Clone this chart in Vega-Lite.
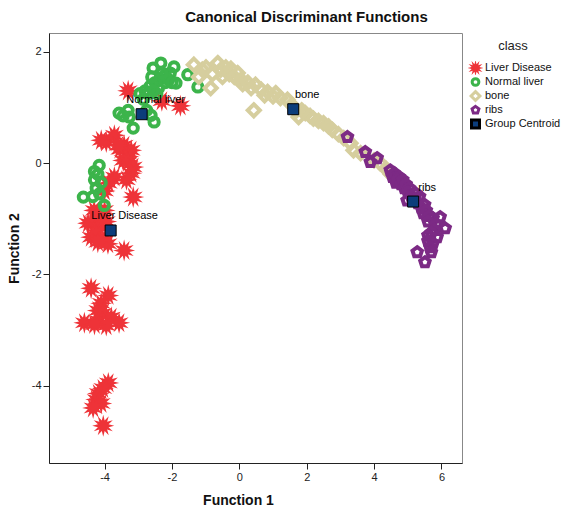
{
  "$schema": "https://vega.github.io/schema/vega-lite/v6.json",
  "width": 413,
  "height": 430,
  "autosize": {"type": "none"},
  "padding": {"left": 49, "top": 33, "right": 100, "bottom": 50},
  "background": "white",
  "title": {"text": "Canonical Discriminant Functions", "font": "Liberation Sans", "fontSize": 15, "fontWeight": "bold", "color": "#111111", "anchor": "middle", "dx": 51, "offset": 8},
  "config": {"view": {"stroke": "#888888", "strokeWidth": 1}, "font": "Liberation Sans"},
  "datasets": {
    "cases": [
      {"f1": -2.3, "f2": 1.12, "class": "Liver Disease"},
      {"f1": -1.75, "f2": 1.03, "class": "Liver Disease"},
      {"f1": -3.3, "f2": 1.3, "class": "Liver Disease"},
      {"f1": -4.1, "f2": 0.41, "class": "Liver Disease"},
      {"f1": -3.95, "f2": 0.38, "class": "Liver Disease"},
      {"f1": -3.71, "f2": 0.5, "class": "Liver Disease"},
      {"f1": -3.42, "f2": 0.32, "class": "Liver Disease"},
      {"f1": -3.55, "f2": 0.25, "class": "Liver Disease"},
      {"f1": -3.21, "f2": 0.23, "class": "Liver Disease"},
      {"f1": -3.3, "f2": 0.12, "class": "Liver Disease"},
      {"f1": -3.45, "f2": 0.05, "class": "Liver Disease"},
      {"f1": -3.3, "f2": 0.02, "class": "Liver Disease"},
      {"f1": -3.15, "f2": -0.07, "class": "Liver Disease"},
      {"f1": -3.21, "f2": -0.18, "class": "Liver Disease"},
      {"f1": -3.35, "f2": -0.3, "class": "Liver Disease"},
      {"f1": -3.15, "f2": -0.61, "class": "Liver Disease"},
      {"f1": -3.71, "f2": -0.25, "class": "Liver Disease"},
      {"f1": -3.89, "f2": -0.36, "class": "Liver Disease"},
      {"f1": -4.0, "f2": -0.5, "class": "Liver Disease"},
      {"f1": -3.6, "f2": 0.32, "class": "Liver Disease"},
      {"f1": -4.31, "f2": -0.85, "class": "Liver Disease"},
      {"f1": -4.2, "f2": -0.95, "class": "Liver Disease"},
      {"f1": -4.0, "f2": -0.85, "class": "Liver Disease"},
      {"f1": -4.3, "f2": -1.05, "class": "Liver Disease"},
      {"f1": -4.49, "f2": -1.08, "class": "Liver Disease"},
      {"f1": -4.15, "f2": -1.15, "class": "Liver Disease"},
      {"f1": -3.95, "f2": -1.05, "class": "Liver Disease"},
      {"f1": -4.4, "f2": -1.33, "class": "Liver Disease"},
      {"f1": -4.25, "f2": -1.28, "class": "Liver Disease"},
      {"f1": -4.01, "f2": -1.39, "class": "Liver Disease"},
      {"f1": -3.9, "f2": -1.45, "class": "Liver Disease"},
      {"f1": -4.2, "f2": -1.42, "class": "Liver Disease"},
      {"f1": -3.42, "f2": -1.57, "class": "Liver Disease"},
      {"f1": -4.4, "f2": -2.25, "class": "Liver Disease"},
      {"f1": -3.89, "f2": -2.38, "class": "Liver Disease"},
      {"f1": -4.1, "f2": -2.52, "class": "Liver Disease"},
      {"f1": -4.2, "f2": -2.65, "class": "Liver Disease"},
      {"f1": -4.05, "f2": -2.7, "class": "Liver Disease"},
      {"f1": -3.8, "f2": -2.77, "class": "Liver Disease"},
      {"f1": -4.6, "f2": -2.87, "class": "Liver Disease"},
      {"f1": -4.19, "f2": -2.83, "class": "Liver Disease"},
      {"f1": -3.57, "f2": -2.87, "class": "Liver Disease"},
      {"f1": -3.95, "f2": -2.92, "class": "Liver Disease"},
      {"f1": -4.3, "f2": -2.9, "class": "Liver Disease"},
      {"f1": -3.89, "f2": -3.95, "class": "Liver Disease"},
      {"f1": -4.05, "f2": -4.05, "class": "Liver Disease"},
      {"f1": -4.19, "f2": -4.14, "class": "Liver Disease"},
      {"f1": -4.25, "f2": -4.25, "class": "Liver Disease"},
      {"f1": -4.1, "f2": -4.32, "class": "Liver Disease"},
      {"f1": -4.34, "f2": -4.4, "class": "Liver Disease"},
      {"f1": -4.04, "f2": -4.72, "class": "Liver Disease"},
      {"f1": -2.95, "f2": 1.25, "class": "Normal liver"},
      {"f1": -2.8, "f2": 1.3, "class": "Normal liver"},
      {"f1": -2.65, "f2": 1.38, "class": "Normal liver"},
      {"f1": -2.5, "f2": 1.45, "class": "Normal liver"},
      {"f1": -2.35, "f2": 1.52, "class": "Normal liver"},
      {"f1": -2.2, "f2": 1.58, "class": "Normal liver"},
      {"f1": -2.05, "f2": 1.62, "class": "Normal liver"},
      {"f1": -2.7, "f2": 1.25, "class": "Normal liver"},
      {"f1": -2.4, "f2": 1.35, "class": "Normal liver"},
      {"f1": -2.2, "f2": 1.45, "class": "Normal liver"},
      {"f1": -2.1, "f2": 1.5, "class": "Normal liver"},
      {"f1": -2.45, "f2": 1.25, "class": "Normal liver"},
      {"f1": -2.85, "f2": 1.15, "class": "Normal liver"},
      {"f1": -2.6, "f2": 1.55, "class": "Normal liver"},
      {"f1": -2.3, "f2": 1.62, "class": "Normal liver"},
      {"f1": -2.0, "f2": 1.45, "class": "Normal liver"},
      {"f1": -2.55, "f2": 1.3, "class": "Normal liver"},
      {"f1": -2.33, "f2": 1.8, "class": "Normal liver"},
      {"f1": -1.94, "f2": 1.73, "class": "Normal liver"},
      {"f1": -2.56, "f2": 1.71, "class": "Normal liver"},
      {"f1": -1.88, "f2": 1.44, "class": "Normal liver"},
      {"f1": -1.53, "f2": 1.59, "class": "Normal liver"},
      {"f1": -1.23, "f2": 1.37, "class": "Normal liver"},
      {"f1": -3.57, "f2": 0.9, "class": "Normal liver"},
      {"f1": -3.27, "f2": 0.83, "class": "Normal liver"},
      {"f1": -2.62, "f2": 0.86, "class": "Normal liver"},
      {"f1": -2.53, "f2": 0.74, "class": "Normal liver"},
      {"f1": -3.15, "f2": 0.63, "class": "Normal liver"},
      {"f1": -3.3, "f2": 0.95, "class": "Normal liver"},
      {"f1": -2.75, "f2": 0.95, "class": "Normal liver"},
      {"f1": -3.45, "f2": 0.85, "class": "Normal liver"},
      {"f1": -4.16, "f2": -0.04, "class": "Normal liver"},
      {"f1": -4.63, "f2": -0.61, "class": "Normal liver"},
      {"f1": -4.01, "f2": -0.76, "class": "Normal liver"},
      {"f1": -4.3, "f2": -0.3, "class": "Normal liver"},
      {"f1": -4.25, "f2": -0.45, "class": "Normal liver"},
      {"f1": -4.15, "f2": -0.55, "class": "Normal liver"},
      {"f1": -4.35, "f2": -0.6, "class": "Normal liver"},
      {"f1": -4.2, "f2": -0.2, "class": "Normal liver"},
      {"f1": -4.1, "f2": -0.35, "class": "Normal liver"},
      {"f1": -4.3, "f2": -0.15, "class": "Normal liver"},
      {"f1": -1.35, "f2": 1.77, "class": "bone"},
      {"f1": -1.2, "f2": 1.55, "class": "bone"},
      {"f1": -1.1, "f2": 1.68, "class": "bone"},
      {"f1": -0.99, "f2": 1.72, "class": "bone"},
      {"f1": -0.85, "f2": 1.35, "class": "bone"},
      {"f1": -0.8, "f2": 1.6, "class": "bone"},
      {"f1": -0.64, "f2": 1.8, "class": "bone"},
      {"f1": -0.55, "f2": 1.68, "class": "bone"},
      {"f1": -0.5, "f2": 1.55, "class": "bone"},
      {"f1": -0.4, "f2": 1.72, "class": "bone"},
      {"f1": -0.3, "f2": 1.6, "class": "bone"},
      {"f1": -0.25, "f2": 1.7, "class": "bone"},
      {"f1": -0.15, "f2": 1.55, "class": "bone"},
      {"f1": -0.05, "f2": 1.62, "class": "bone"},
      {"f1": 0.05, "f2": 1.5, "class": "bone"},
      {"f1": 0.1, "f2": 1.42, "class": "bone"},
      {"f1": 0.25, "f2": 1.45, "class": "bone"},
      {"f1": 0.35, "f2": 1.35, "class": "bone"},
      {"f1": 0.43, "f2": 0.95, "class": "bone"},
      {"f1": 0.48, "f2": 1.41, "class": "bone"},
      {"f1": 0.65, "f2": 1.32, "class": "bone"},
      {"f1": 0.75, "f2": 1.22, "class": "bone"},
      {"f1": 0.84, "f2": 1.28, "class": "bone"},
      {"f1": 1.0, "f2": 1.2, "class": "bone"},
      {"f1": 1.08, "f2": 1.26, "class": "bone"},
      {"f1": 1.22, "f2": 1.17, "class": "bone"},
      {"f1": 1.43, "f2": 1.14, "class": "bone"},
      {"f1": 1.55, "f2": 1.05, "class": "bone"},
      {"f1": 1.7, "f2": 0.95, "class": "bone"},
      {"f1": 1.76, "f2": 0.83, "class": "bone"},
      {"f1": 1.85, "f2": 0.95, "class": "bone"},
      {"f1": 1.96, "f2": 0.9, "class": "bone"},
      {"f1": 2.1, "f2": 0.85, "class": "bone"},
      {"f1": 2.2, "f2": 0.8, "class": "bone"},
      {"f1": 2.35, "f2": 0.76, "class": "bone"},
      {"f1": 2.5, "f2": 0.72, "class": "bone"},
      {"f1": 2.65, "f2": 0.66, "class": "bone"},
      {"f1": 2.76, "f2": 0.6, "class": "bone"},
      {"f1": 2.94, "f2": 0.52, "class": "bone"},
      {"f1": 3.1, "f2": 0.45, "class": "bone"},
      {"f1": 3.3, "f2": 0.36, "class": "bone"},
      {"f1": 3.39, "f2": 0.23, "class": "bone"},
      {"f1": 3.6, "f2": 0.18, "class": "bone"},
      {"f1": 4.0, "f2": 0.05, "class": "bone"},
      {"f1": 4.18, "f2": 0.0, "class": "bone"},
      {"f1": 4.35, "f2": -0.1, "class": "bone"},
      {"f1": 4.5, "f2": -0.2, "class": "bone"},
      {"f1": 4.7, "f2": -0.3, "class": "bone"},
      {"f1": 3.21, "f2": 0.47, "class": "ribs"},
      {"f1": 3.74, "f2": 0.2, "class": "ribs"},
      {"f1": 3.89, "f2": 0.02, "class": "ribs"},
      {"f1": 4.09, "f2": 0.09, "class": "ribs"},
      {"f1": 4.48, "f2": -0.13, "class": "ribs"},
      {"f1": 4.55, "f2": -0.25, "class": "ribs"},
      {"f1": 4.6, "f2": -0.18, "class": "ribs"},
      {"f1": 4.75, "f2": -0.25, "class": "ribs"},
      {"f1": 4.65, "f2": -0.35, "class": "ribs"},
      {"f1": 4.7, "f2": -0.3, "class": "ribs"},
      {"f1": 4.8, "f2": -0.38, "class": "ribs"},
      {"f1": 4.85, "f2": -0.3, "class": "ribs"},
      {"f1": 4.9, "f2": -0.45, "class": "ribs"},
      {"f1": 4.95, "f2": -0.38, "class": "ribs"},
      {"f1": 5.05, "f2": -0.45, "class": "ribs"},
      {"f1": 5.0, "f2": -0.52, "class": "ribs"},
      {"f1": 5.1, "f2": -0.6, "class": "ribs"},
      {"f1": 5.25, "f2": -0.55, "class": "ribs"},
      {"f1": 5.2, "f2": -0.65, "class": "ribs"},
      {"f1": 5.35, "f2": -0.6, "class": "ribs"},
      {"f1": 5.3, "f2": -0.72, "class": "ribs"},
      {"f1": 5.4, "f2": -0.8, "class": "ribs"},
      {"f1": 5.5, "f2": -0.75, "class": "ribs"},
      {"f1": 4.98, "f2": -0.67, "class": "ribs"},
      {"f1": 5.46, "f2": -0.9, "class": "ribs"},
      {"f1": 5.55, "f2": -0.85, "class": "ribs"},
      {"f1": 5.65, "f2": -0.95, "class": "ribs"},
      {"f1": 5.75, "f2": -0.99, "class": "ribs"},
      {"f1": 5.96, "f2": -0.97, "class": "ribs"},
      {"f1": 5.6, "f2": -1.05, "class": "ribs"},
      {"f1": 5.85, "f2": -1.1, "class": "ribs"},
      {"f1": 6.11, "f2": -1.17, "class": "ribs"},
      {"f1": 5.8, "f2": -1.2, "class": "ribs"},
      {"f1": 5.7, "f2": -1.25, "class": "ribs"},
      {"f1": 5.6, "f2": -1.3, "class": "ribs"},
      {"f1": 5.87, "f2": -1.33, "class": "ribs"},
      {"f1": 5.6, "f2": -1.4, "class": "ribs"},
      {"f1": 5.75, "f2": -1.44, "class": "ribs"},
      {"f1": 5.66, "f2": -1.51, "class": "ribs"},
      {"f1": 5.7, "f2": -1.6, "class": "ribs"},
      {"f1": 5.28, "f2": -1.6, "class": "ribs"},
      {"f1": 5.51, "f2": -1.78, "class": "ribs"}
    ],
    "centroids": [
      {"f1": -3.82, "f2": -1.21, "class": "Group Centroid", "label": "Liver Disease"},
      {"f1": -2.9, "f2": 0.88, "class": "Group Centroid", "label": "Normal liver"},
      {"f1": 1.6, "f2": 0.97, "class": "Group Centroid", "label": "bone"},
      {"f1": 5.16, "f2": -0.69, "class": "Group Centroid", "label": "ribs"}
    ]
  },
  "layer": [
    {
      "data": {"name": "cases"},
      "mark": {"type": "point", "opacity": 1, "size": 484, "strokeWidth": 4, "strokeJoin": "miter"},
      "encoding": {
        "x": {"field": "f1", "type": "quantitative", "scale": {"domain": [-5.65, 6.61], "nice": false, "zero": false},
          "axis": {"values": [-4, -2, 0, 2, 4, 6], "labelExpr": "'' + datum.value", "title": "Function 1", "titleFont": "Liberation Sans", "titleFontSize": 14, "titleFontWeight": "bold", "titleColor": "#111111", "titleX": 189, "titleY": 37, "titleBaseline": "middle", "labelFont": "Liberation Sans", "labelFontSize": 11, "labelColor": "#222222", "tickSize": 6, "tickColor": "#222222", "labelPadding": 2, "domainColor": "#222222", "grid": false, "labelFlush": false}},
        "y": {"field": "f2", "type": "quantitative", "scale": {"domain": [-5.39, 2.34], "nice": false, "zero": false},
          "axis": {"values": [-4, -2, 0, 2], "labelExpr": "'' + datum.value", "title": "Function 2", "titleFont": "Liberation Sans", "titleFontSize": 14, "titleFontWeight": "bold", "titleColor": "#111111", "titleX": -35, "titleBaseline": "middle", "labelFont": "Liberation Sans", "labelFontSize": 11, "labelColor": "#222222", "tickSize": 6, "tickColor": "#222222", "labelPadding": 2, "domainColor": "#222222", "grid": false, "labelFlush": false}},
        "shape": {"field": "class", "type": "nominal",
          "scale": {"domain": ["Liver Disease", "Normal liver", "bone", "ribs", "Group Centroid"],
            "range": [
              "M0,-1L0.129,-0.483L0.5,-0.866L0.354,-0.354L0.866,-0.5L0.483,-0.129L1,0L0.483,0.129L0.866,0.5L0.354,0.354L0.5,0.866L0.129,0.483L0,1L-0.129,0.483L-0.5,0.866L-0.354,0.354L-0.866,0.5L-0.483,0.129L-1,0L-0.483,-0.129L-0.866,-0.5L-0.354,-0.354L-0.5,-0.866L-0.129,-0.483Z",
              "M-0.42,0A0.42,0.42,0,1,0,0.42,0A0.42,0.42,0,1,0,-0.42,0Z",
              "M0,-0.55L0.55,0L0,0.55L-0.55,0Z",
              "M0,-0.45L0.428,-0.139L0.265,0.364L-0.265,0.364L-0.428,-0.139Z",
              "M-0.5,-0.5L0.5,-0.5L0.5,0.5L-0.5,0.5Z"
            ]},
          "legend": {"orient": "none", "legendX": 417, "legendY": 7, "title": "class", "titleFont": "Liberation Sans", "titleFontSize": 13, "titleFontWeight": "normal", "titleAnchor": "middle", "titleAlign": "center", "titleColor": "#222222", "titlePadding": 8, "labelFont": "Liberation Sans", "labelFontSize": 11, "labelColor": "#111111", "symbolSize": 256, "clipHeight": 14, "rowPadding": 0, "labelOffset": 0, "padding": 0, "symbolStrokeWidth": 3, "symbolOpacity": 1,
            "encode": {"symbols": {"update": {"strokeWidth": {"signal": "datum.value === 'Group Centroid' ? 1 : 3"}}}}}},
        "fill": {"field": "class", "type": "nominal",
          "scale": {"domain": ["Liver Disease", "Normal liver", "bone", "ribs", "Group Centroid"], "range": ["#EE3338", "transparent", "transparent", "transparent", "#0C3D7B"]}},
        "stroke": {"field": "class", "type": "nominal",
          "scale": {"domain": ["Liver Disease", "Normal liver", "bone", "ribs", "Group Centroid"], "range": ["transparent", "#3CB44B", "#D6CE9E", "#7C2A85", "#000000"]}}
      }
    },
    {
      "data": {"name": "centroids"},
      "mark": {"type": "point", "opacity": 1, "size": 484, "strokeWidth": 1},
      "encoding": {
        "x": {"field": "f1", "type": "quantitative"},
        "y": {"field": "f2", "type": "quantitative"},
        "shape": {"field": "class", "type": "nominal"},
        "fill": {"field": "class", "type": "nominal"},
        "stroke": {"field": "class", "type": "nominal"}
      }
    },
    {
      "data": {"name": "centroids"},
      "mark": {"type": "text", "font": "Liberation Sans", "fontSize": 11, "dx": 14, "dy": -14, "align": "center", "baseline": "middle", "color": "#000000"},
      "encoding": {
        "x": {"field": "f1", "type": "quantitative"},
        "y": {"field": "f2", "type": "quantitative"},
        "text": {"field": "label"}
      }
    }
  ]
}
